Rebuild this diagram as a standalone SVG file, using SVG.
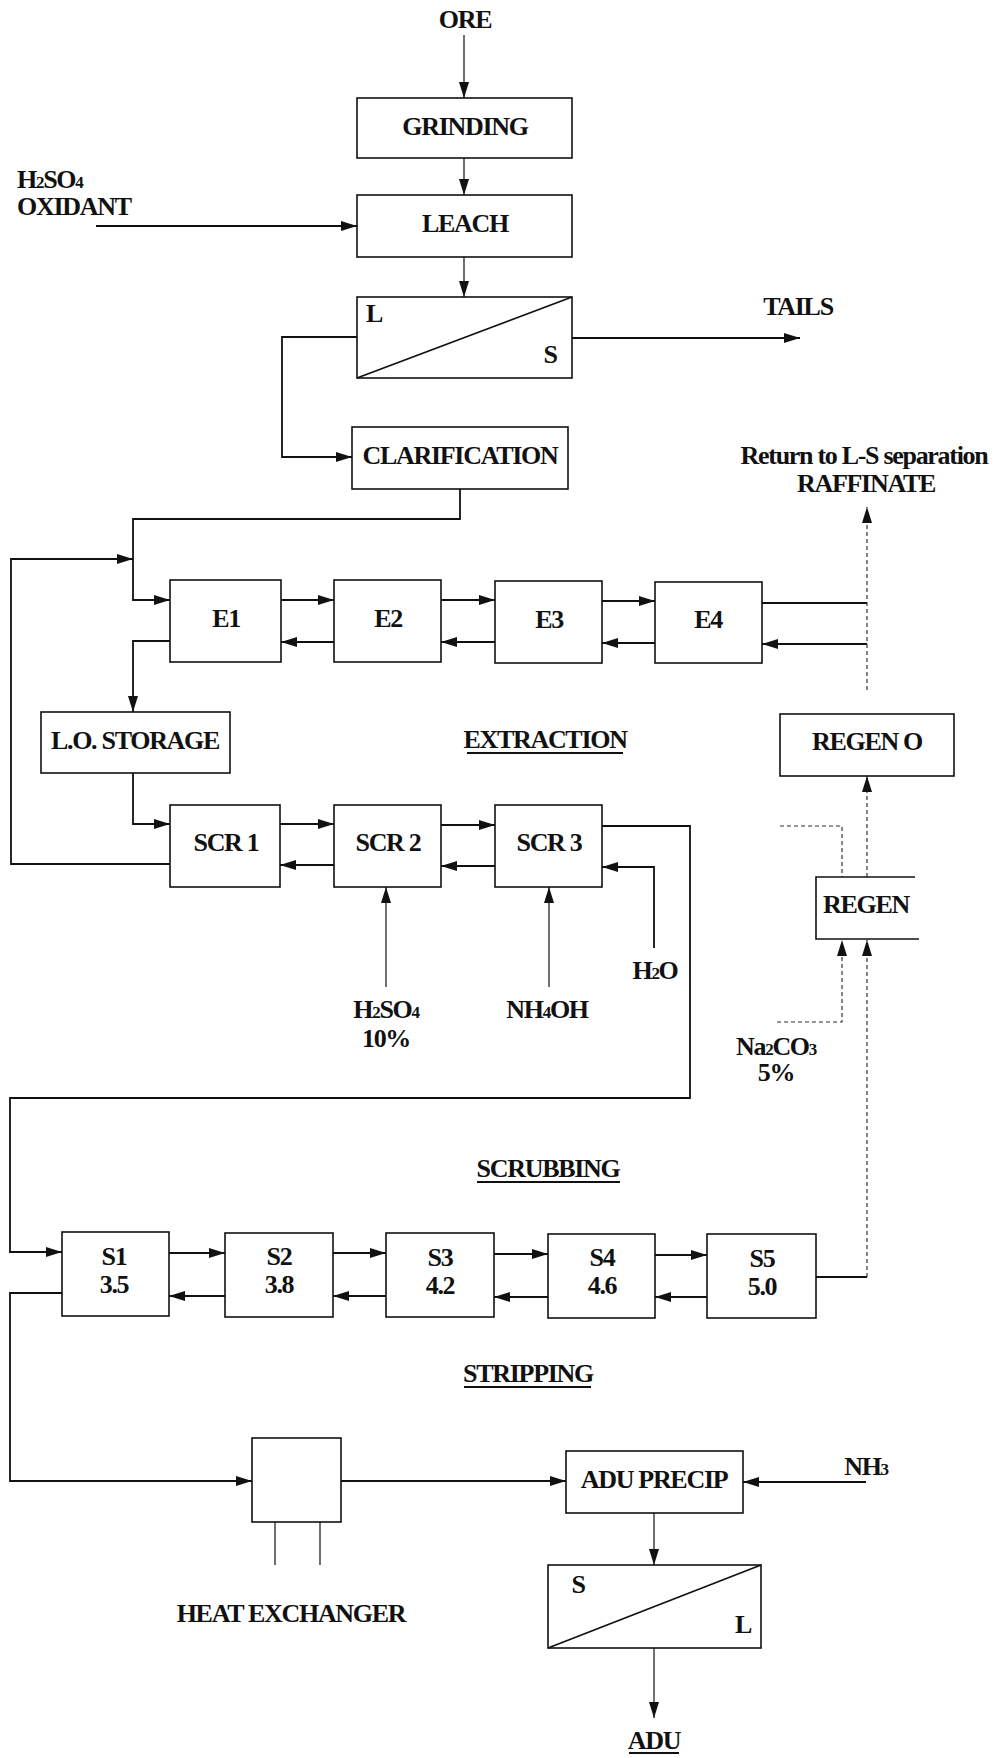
<svg xmlns="http://www.w3.org/2000/svg" width="997" height="1758" viewBox="0 0 997 1758">
<defs>
<style>
.box{fill:none;stroke:#111;stroke-width:1.6}
.t{font-family:"Liberation Serif","Times New Roman",serif;font-weight:bold;font-size:26px;letter-spacing:-1.3px;text-anchor:middle;fill:#111}
.s{text-anchor:start}
.c{fill:none;stroke:#111;stroke-width:1.8}
.h{fill:none;stroke:#111;stroke-width:2.2}
.v{fill:none;stroke:#111;stroke-width:1.2}
.d{fill:none;stroke:#333;stroke-width:1.2;stroke-dasharray:4 3}
.u{stroke:#111;stroke-width:2}
.sub{font-size:17px}
</style>
<marker id="ah" markerUnits="userSpaceOnUse" markerWidth="16" markerHeight="10" refX="16" refY="5" orient="auto">
<path d="M0,0 L16,5 L0,10 z" fill="#111"/>
</marker>
</defs>
<rect width="997" height="1758" fill="#fff"/>

<g id="connectors">
<path class="v" d="M464,35 V98" marker-end="url(#ah)"/>
<path class="v" d="M464,158 V195" marker-end="url(#ah)"/>
<path class="v" d="M464,257 V297" marker-end="url(#ah)"/>
<path class="h" d="M96,226 H357" marker-end="url(#ah)"/>
<path class="h" d="M572,338 H800" marker-end="url(#ah)"/>
<path class="c" d="M357,337 H282 V457 H352" marker-end="url(#ah)"/>
<path class="c" d="M460,489 V519 H133 V600 H170" marker-end="url(#ah)"/>
<path class="c" d="M170,864 H11 V559 H133" marker-end="url(#ah)"/>
<path class="h" d="M281,600 H334" marker-end="url(#ah)"/>
<path class="h" d="M441,600 H495" marker-end="url(#ah)"/>
<path class="h" d="M602,601 H655" marker-end="url(#ah)"/>
<path class="h" d="M334,642 H281" marker-end="url(#ah)"/>
<path class="h" d="M495,642 H441" marker-end="url(#ah)"/>
<path class="h" d="M655,643 H602" marker-end="url(#ah)"/>
<path class="h" d="M867,644 H762" marker-end="url(#ah)"/>
<path class="h" d="M762,603 H867"/>
<path class="d" d="M867,690 V507" marker-end="url(#ah)"/>
<path class="c" d="M170,641 H133 V712" marker-end="url(#ah)"/>
<path class="c" d="M133,773 V824 H170" marker-end="url(#ah)"/>
<path class="h" d="M280,824 H334" marker-end="url(#ah)"/>
<path class="h" d="M441,825 H495" marker-end="url(#ah)"/>
<path class="h" d="M334,865 H280" marker-end="url(#ah)"/>
<path class="h" d="M495,866 H441" marker-end="url(#ah)"/>
<path class="c" d="M654,948 V867 H602" marker-end="url(#ah)"/>
<path class="v" d="M386,987 V887" marker-end="url(#ah)"/>
<path class="v" d="M549,987 V887" marker-end="url(#ah)"/>
<path class="c" d="M602,826 H690 V1098 H10 V1252 H62" marker-end="url(#ah)"/>
<path class="h" d="M169,1253 H225" marker-end="url(#ah)"/>
<path class="h" d="M333,1253 H386" marker-end="url(#ah)"/>
<path class="h" d="M494,1254 H548" marker-end="url(#ah)"/>
<path class="h" d="M655,1255 H707" marker-end="url(#ah)"/>
<path class="h" d="M225,1296 H169" marker-end="url(#ah)"/>
<path class="h" d="M386,1296 H333" marker-end="url(#ah)"/>
<path class="h" d="M548,1297 H494" marker-end="url(#ah)"/>
<path class="h" d="M707,1297 H655" marker-end="url(#ah)"/>
<path class="c" d="M62,1293 H10 V1481 H252" marker-end="url(#ah)"/>
<path class="h" d="M816,1277 H867"/>
<path class="d" d="M867,1277 V940" marker-end="url(#ah)"/>
<path class="d" d="M777,1022 H842 V940" marker-end="url(#ah)"/>
<path class="d" d="M867,877 V776" marker-end="url(#ah)"/>
<path class="d" d="M780,826 H842 V877"/>
<path class="h" d="M341,1481 H566" marker-end="url(#ah)"/>
<path class="h" d="M866,1482 H743" marker-end="url(#ah)"/>
<path class="v" d="M654,1513 V1565" marker-end="url(#ah)"/>
<path class="v" d="M654,1648 V1718" marker-end="url(#ah)"/>
<path class="v" d="M275,1522 V1565 M320,1522 V1565"/>
</g>

<g id="ore"><text class="t" x="465" y="28">ORE</text></g>
<g id="grinding"><rect class="box" x="357" y="98" width="215" height="60"/><text class="t" x="465" y="135">GRINDING</text></g>
<g id="reagent-leach"><text class="t s" x="17" y="188">H<tspan class="sub">2</tspan>SO<tspan class="sub">4</tspan></text><text class="t s" x="17" y="215">OXIDANT</text></g>
<g id="leach"><rect class="box" x="357" y="195" width="215" height="62"/><text class="t" x="465" y="232">LEACH</text></g>
<g id="ls-separation"><rect class="box" x="357" y="297" width="215" height="81"/><line class="v" x1="357" y1="378" x2="572" y2="297" style="stroke-width:1.8"/><text class="t" x="374" y="322">L</text><text class="t" x="550" y="363">S</text></g>
<g id="tails"><text class="t" x="798" y="315">TAILS</text></g>
<g id="clarification"><rect class="box" x="352" y="427" width="216" height="62"/><text class="t" x="460" y="464">CLARIFICATION</text></g>
<g id="raffinate"><text class="t" x="864" y="464">Return to L-S separation</text><text class="t" x="866" y="492">RAFFINATE</text></g>
<g id="e1"><rect class="box" x="170" y="580" width="111" height="82"/><text class="t" x="226" y="627">E1</text></g>
<g id="e2"><rect class="box" x="334" y="580" width="107" height="82"/><text class="t" x="388" y="627">E2</text></g>
<g id="e3"><rect class="box" x="495" y="581" width="107" height="82"/><text class="t" x="549" y="628">E3</text></g>
<g id="e4"><rect class="box" x="655" y="582" width="107" height="81"/><text class="t" x="708" y="628">E4</text></g>
<g id="lo-storage"><rect class="box" x="41" y="712" width="189" height="61"/><text class="t" x="135" y="749">L.O. STORAGE</text></g>
<g id="extraction"><text class="t" x="545" y="748">EXTRACTION</text><line class="u" x1="467" y1="753" x2="623" y2="753"/></g>
<g id="regen-o"><rect class="box" x="780" y="714" width="174" height="62"/><text class="t" x="867" y="750">REGEN O</text></g>
<g id="scr1"><rect class="box" x="170" y="805" width="110" height="82"/><text class="t" x="226" y="851">SCR 1</text></g>
<g id="scr2"><rect class="box" x="334" y="805" width="107" height="82"/><text class="t" x="388" y="851">SCR 2</text></g>
<g id="scr3"><rect class="box" x="495" y="805" width="107" height="82"/><text class="t" x="549" y="851">SCR 3</text></g>
<g id="regen"><path class="box" d="M915,877 H816 V939 H919"/><text class="t" x="866" y="913">REGEN</text></g>
<g id="h2o"><text class="t" x="655" y="979">H<tspan class="sub">2</tspan>O</text></g>
<g id="h2so4-10"><text class="t" x="386" y="1018">H<tspan class="sub">2</tspan>SO<tspan class="sub">4</tspan></text><text class="t" x="386" y="1047">10%</text></g>
<g id="nh4oh"><text class="t" x="547" y="1018">NH<tspan class="sub">4</tspan>OH</text></g>
<g id="na2co3"><text class="t" x="776" y="1055">Na<tspan class="sub">2</tspan>CO<tspan class="sub">3</tspan></text><text class="t" x="776" y="1081">5%</text></g>
<g id="scrubbing"><text class="t" x="548" y="1177">SCRUBBING</text><line class="u" x1="477" y1="1182" x2="620" y2="1182"/></g>
<g id="s1"><rect class="box" x="62" y="1232" width="107" height="84"/><text class="t" x="114" y="1265">S1</text><text class="t" x="114" y="1293">3.5</text></g>
<g id="s2"><rect class="box" x="225" y="1233" width="108" height="84"/><text class="t" x="279" y="1265">S2</text><text class="t" x="279" y="1293">3.8</text></g>
<g id="s3"><rect class="box" x="386" y="1233" width="108" height="84"/><text class="t" x="440" y="1266">S3</text><text class="t" x="440" y="1294">4.2</text></g>
<g id="s4"><rect class="box" x="548" y="1234" width="107" height="84"/><text class="t" x="602" y="1266">S4</text><text class="t" x="602" y="1294">4.6</text></g>
<g id="s5"><rect class="box" x="707" y="1234" width="109" height="84"/><text class="t" x="762" y="1267">S5</text><text class="t" x="762" y="1295">5.0</text></g>
<g id="stripping"><text class="t" x="528" y="1382">STRIPPING</text><line class="u" x1="464" y1="1387" x2="591" y2="1387"/></g>
<g id="heat-exchanger"><rect class="box" x="252" y="1438" width="89" height="84"/><text class="t" x="291" y="1622">HEAT EXCHANGER</text></g>
<g id="adu-precip"><rect class="box" x="566" y="1451" width="177" height="62"/><text class="t" x="654" y="1488">ADU PRECIP</text></g>
<g id="nh3"><text class="t" x="866" y="1475">NH<tspan class="sub">3</tspan></text></g>
<g id="sl-separation"><rect class="box" x="548" y="1565" width="213" height="83"/><line class="v" x1="548" y1="1648" x2="761" y2="1565" style="stroke-width:1.8"/><text class="t" x="578" y="1593">S</text><text class="t" x="743" y="1633">L</text></g>
<g id="adu"><text class="t" x="654" y="1749">ADU</text><line class="u" x1="629" y1="1753" x2="679" y2="1753"/></g>
</svg>
